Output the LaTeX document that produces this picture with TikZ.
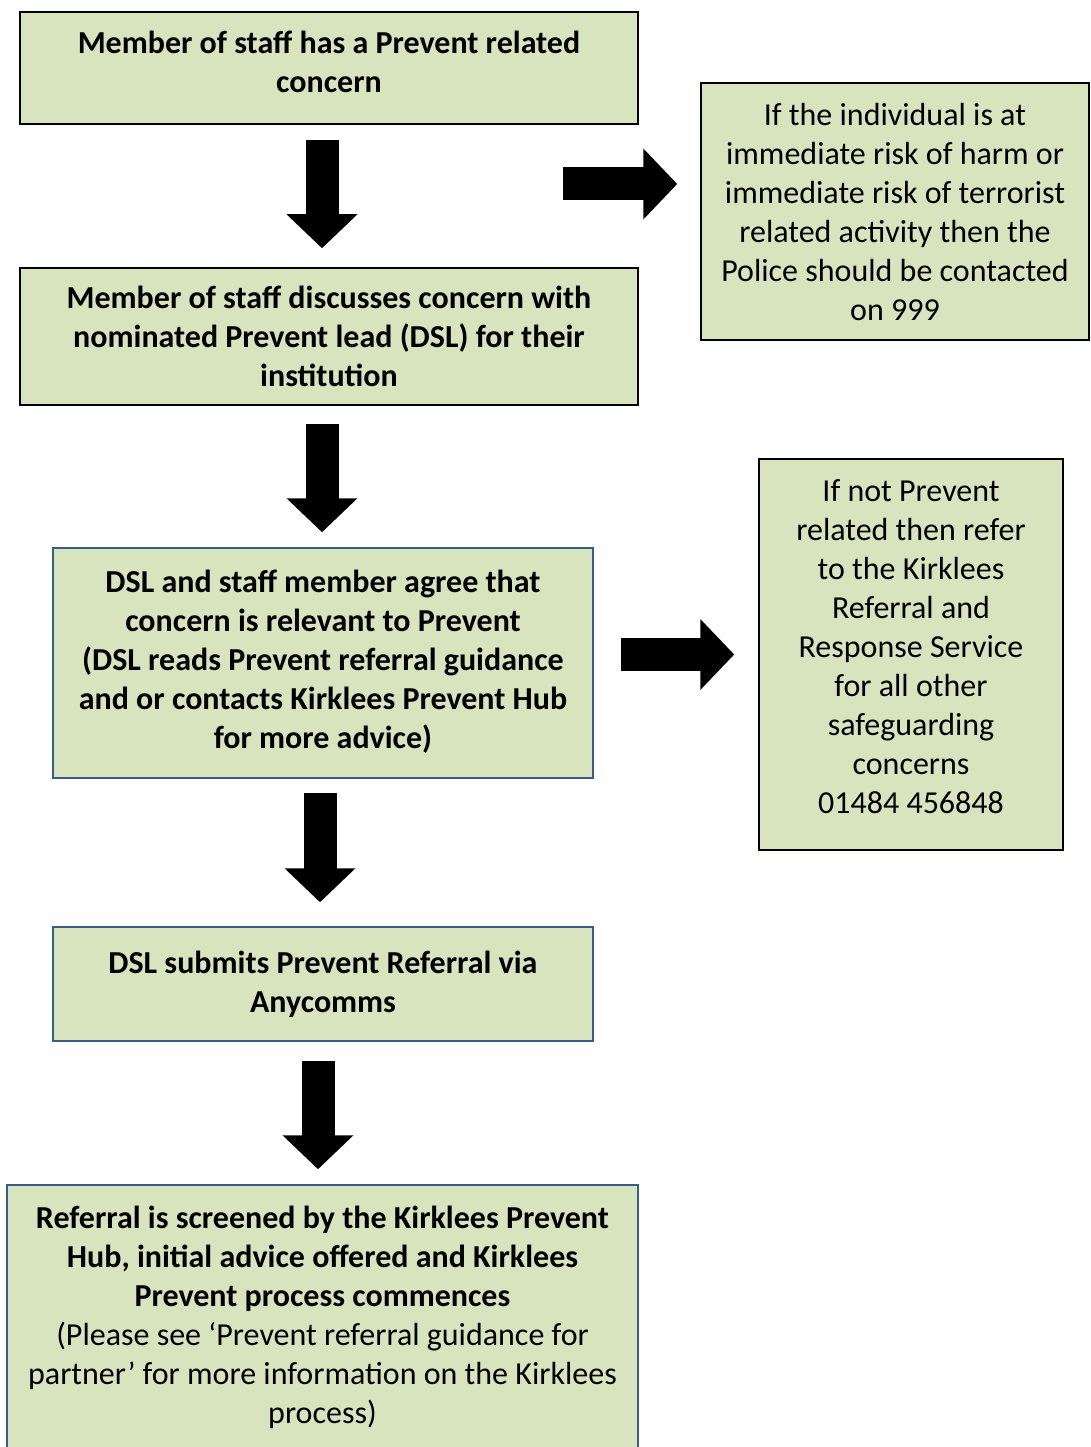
\documentclass[tikz,border=0pt]{standalone}
\usepackage{fontspec}
\setmainfont{Carlito}
\usepackage{xcolor}
\definecolor{boxgreen}{HTML}{D7E4BD}
\definecolor{boxblue}{HTML}{385D8A}
\usetikzlibrary{arrows.meta}
\tikzset{
  stepbox/.style={draw=black,line width=1.5pt,fill=boxgreen,rectangle,inner sep=0pt,align=center,
    font=\fontsize{32}{39}\selectfont\bfseries},
  bluebox/.style={stepbox,draw=boxblue},
  sidebox/.style={stepbox,font=\fontsize{32}{39}\selectfont},
  bigarrow/.style={line width=33pt,-{Triangle[width=69pt,length=34pt]}},
}
\begin{document}
\begin{tikzpicture}[x=1pt,y=-1pt]
\useasboundingbox (0,0) rectangle (1091,1447);
\node[stepbox,minimum width=618pt,minimum height=112pt,text depth=12pt] (prev1) at (329,68)
  {Member of staff has a Prevent related\\concern};
\node[stepbox,minimum width=618pt,minimum height=137pt] (prev2) at (329,336.5)
  {Member of staff discusses concern with\\nominated Prevent lead (DSL) for their\\institution};
\node[bluebox,minimum width=540pt,minimum height=230pt,text depth=8pt] (prev3) at (323,663)
  {DSL and staff member agree that\\concern is relevant to Prevent\\(DSL reads Prevent referral guidance\\and or contacts Kirklees Prevent Hub\\for more advice)};
\node[bluebox,minimum width=540pt,minimum height=114pt] (prev4) at (323,984)
  {DSL submits Prevent Referral via\\Anycomms};
\node[bluebox,minimum width=631pt,minimum height=264pt] (prev5) at (322.5,1317)
  {Referral is screened by the Kirklees Prevent\\Hub, initial advice offered and Kirklees\\Prevent process commences\\
   \mdseries(Please see ‘Prevent referral guidance for\\\mdseries partner’ for more information on the Kirklees\\\mdseries process)};
\node[sidebox,minimum width=388pt,minimum height=257pt] (police) at (895,211.5)
  {If the individual is at\\immediate risk of harm or\\immediate risk of terrorist\\related activity then the\\Police should be contacted\\on 999};
\node[sidebox,minimum width=304pt,minimum height=391pt,text depth=16pt] (kras) at (911,654.5)
  {If not Prevent\\related then refer\\to the Kirklees\\Referral and\\Response Service\\for all other\\safeguarding\\concerns\\01484 456848};
\coordinate (p1) at (563,184);
\draw[bigarrow,shorten <=15pt,shorten >=19pt] ([xshift=-7pt]prev1.south) -- ([xshift=-7pt]prev2.north);
\draw[bigarrow,shorten <=18pt,shorten >=15pt] ([xshift=-1pt]prev3.north |- prev2.south) -- ([xshift=-1pt]prev3.north);
\draw[bigarrow,shorten <=14pt,shorten >=24pt] ([xshift=-3pt]prev3.south) -- ([xshift=-3pt]prev4.north);
\draw[bigarrow,shorten <=19pt,shorten >=15pt] ([xshift=-5pt]prev4.south) -- ([xshift=-5pt]prev4.south |- prev5.north);
\draw[bigarrow,shorten >=23pt] (p1) -- (p1 -| police.west);
\draw[bigarrow,shorten <=27pt,shorten >=24pt] (prev3.east |- kras.west) -- (kras.west);
\end{tikzpicture}
\end{document}
